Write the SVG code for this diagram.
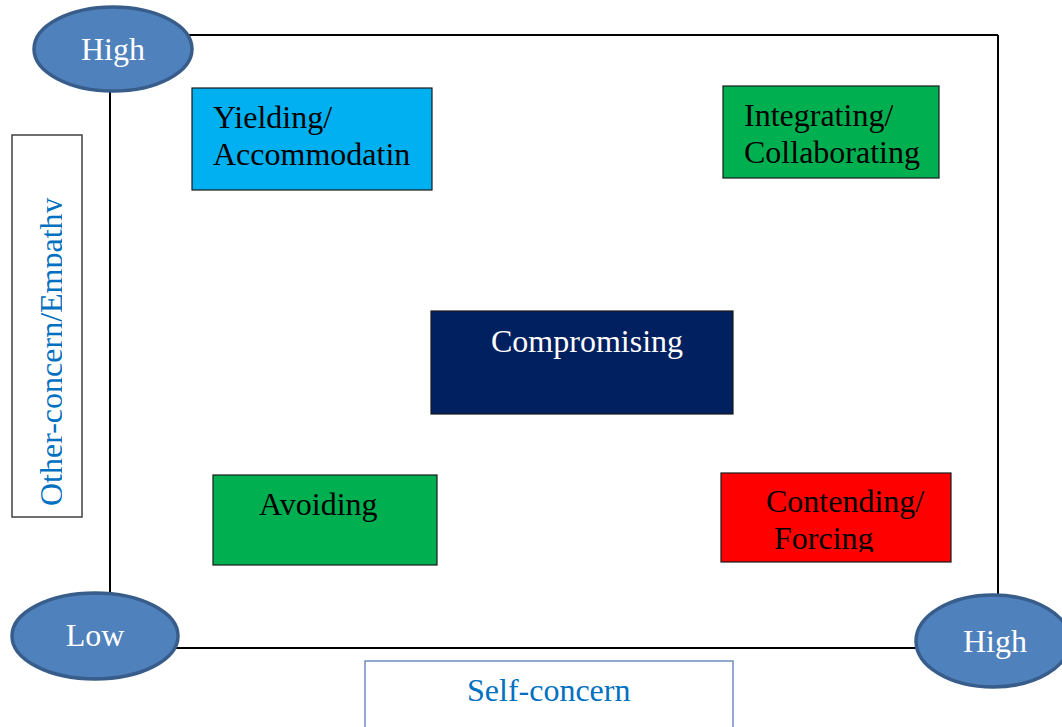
<svg xmlns="http://www.w3.org/2000/svg" width="1062" height="727" viewBox="0 0 1062 727">
<style>
.t{font-family:"Liberation Serif","Times New Roman",serif;font-size:32px;fill:#000}
.w{fill:#fff}
.b{fill:#0070c0}
.box{stroke:#1a1a1a;stroke-width:1.2}
.ell{fill:#4f81bd;stroke:#385d8a;stroke-width:3.5}
.frame{stroke:#000;stroke-width:2;fill:none}
</style>
<defs>
<clipPath id="clipLeft"><rect x="0" y="130" width="62" height="400"/></clipPath>
<clipPath id="clipForcing"><rect x="700" y="460" width="270" height="92"/></clipPath>
</defs>
<rect width="1062" height="727" fill="#fff"/>
<g id="connectors">
<line class="frame" x1="110" y1="35" x2="998" y2="35"/>
<line class="frame" x1="998" y1="35" x2="998" y2="648"/>
<line class="frame" x1="110" y1="648" x2="998" y2="648"/>
<line class="frame" x1="110" y1="35" x2="110" y2="648"/>
</g>
<g id="axis-other">
<rect x="12" y="135" width="70" height="382" fill="#fff" stroke="#404040" stroke-width="1.5"/>
<g clip-path="url(#clipLeft)">
<text class="t b" transform="translate(62,506) rotate(-90)">Other-concern/Empathy</text>
</g>
</g>
<g id="axis-self">
<rect x="365" y="661" width="368" height="80" fill="#fff" stroke="#6f8fc0" stroke-width="1.5"/>
<text class="t b" x="467" y="701">Self-concern</text>
</g>
<g id="yielding">
<rect class="box" x="192" y="88" width="240" height="102" fill="#00b0f0"/>
<text class="t" x="213" y="128">Yielding/</text>
<text class="t" x="213" y="165">Accommodatin</text>
</g>
<g id="integrating">
<rect class="box" x="723" y="86" width="216" height="92" fill="#00b050"/>
<text class="t" x="744" y="126">Integrating/</text>
<text class="t" x="744" y="163">Collaborating</text>
</g>
<g id="compromising">
<rect class="box" x="431" y="311" width="302" height="103" fill="#002060"/>
<text class="t w" x="491" y="352">Compromising</text>
</g>
<g id="avoiding">
<rect class="box" x="213" y="475" width="224" height="90" fill="#00b050"/>
<text class="t" x="259" y="515">Avoiding</text>
</g>
<g id="contending">
<rect class="box" x="721" y="473" width="230" height="89" fill="#ff0000"/>
<text class="t" x="766" y="512">Contending/</text>
<g clip-path="url(#clipForcing)"><text class="t" x="774" y="549">Forcing</text></g>
</g>
<g id="high-top">
<ellipse class="ell" cx="113" cy="49" rx="79" ry="42"/>
<text class="t w" x="113" y="60" text-anchor="middle">High</text>
</g>
<g id="low">
<ellipse class="ell" cx="95" cy="636" rx="83" ry="43"/>
<text class="t w" x="95" y="646" text-anchor="middle">Low</text>
</g>
<g id="high-right">
<ellipse class="ell" cx="993" cy="641" rx="77" ry="46"/>
<text class="t w" x="995" y="652" text-anchor="middle">High</text>
</g>
</svg>
